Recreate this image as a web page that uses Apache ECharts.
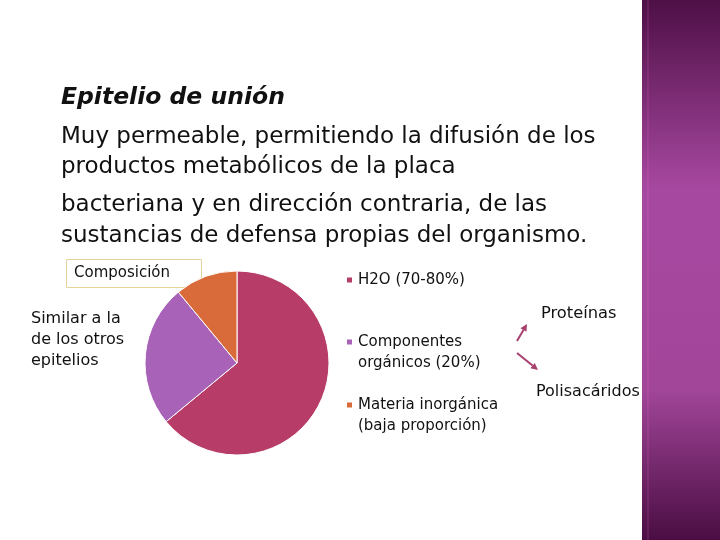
<!DOCTYPE html>
<html><head><meta charset="utf-8">
<script src="https://cdn.jsdelivr.net/npm/echarts@6/dist/echarts.min.js"></script>
<style>html,body{margin:0;padding:0;background:#fff}#c{width:720px;height:540px}</style>
</head><body><div id="c"></div>
<script>
const categories = ['H2O (70-80%)', 'Componentes orgánicos (20%)', 'Materia inorgánica (baja proporción)'];
const legendLabels = [['H2O (70-80%)'], ['Componentes', 'orgánicos (20%)'], ['Materia inorgánica', '(baja proporción)']];
const values = [64, 25, 11];
const colors = ['#b83c68', '#a862b8', '#d96b3a'];
const titleText = 'Epitelio de unión';
const bodyLines = ['Muy permeable, permitiendo la difusión de los', 'productos metabólicos de la placa', 'bacteriana y en dirección contraria, de las', 'sustancias de defensa propias del organismo.'];
const sideLines = ['Similar a la', 'de los otros', 'epitelios'];

const FONT = 'DejaVu Sans';
const chart = echarts.init(document.getElementById('c'), null, {renderer: 'canvas'});

const legendCenters = [280, 342, 405];
const legends = categories.map((c, i) => {
  const multi = legendLabels[i].length > 1;
  return {
    data: [c], left: 345, top: multi ? legendCenters[i] - 31.5 : legendCenters[i] - 10.5,
    orient: 'vertical', padding: 0,
    icon: 'rect', itemWidth: 7, itemHeight: 7, itemGap: 0, selectedMode: false,
    formatter: () => (multi ? ' \n' : '') + legendLabels[i].join('\n'),
    textStyle: {fontFamily: FONT, fontSize: 15, color: '#111', lineHeight: 21}
  };
});

function txt(x, y, s, size, extra) {
  return {type: 'text', x: x, y: y, style: Object.assign({text: s, fontFamily: FONT, fontSize: size, fill: '#111', verticalAlign: 'middle'}, extra || {})};
}
function arrow(x1, y1, x2, y2) {
  const a = Math.atan2(y2 - y1, x2 - x1), L = 7, W = 3.5;
  const bx = x2 - L * Math.cos(a), by = y2 - L * Math.sin(a);
  return [
    {type: 'line', shape: {x1: x1, y1: y1, x2: bx, y2: by}, style: {stroke: '#a8406e', lineWidth: 2}},
    {type: 'polygon', shape: {points: [[x2, y2], [bx - W * Math.sin(a), by + W * Math.cos(a)], [bx + W * Math.sin(a), by - W * Math.cos(a)]]}, style: {fill: '#a8406e'}}
  ];
}

const graphics = [
  {type: 'rect', shape: {x: 642, y: 0, width: 78, height: 540}, style: {fill: new echarts.graphic.LinearGradient(0, 0, 0, 1, [
    {offset: 0, color: '#4e0f46'}, {offset: 0.35, color: '#a748a0'}, {offset: 0.72, color: '#a2469a'}, {offset: 1, color: '#4a0d42'}])}},
  {type: 'rect', shape: {x: 647, y: 0, width: 2, height: 540}, style: {fill: 'rgba(255,120,200,0.12)'}},
  txt(61, 98, titleText, 23.5, {fontWeight: 'bold', fontStyle: 'italic'}),
  txt(61, 137, bodyLines[0], 23),
  txt(61, 167, bodyLines[1], 23),
  txt(61, 205, bodyLines[2], 23),
  txt(61, 236, bodyLines[3], 23),
  {type: 'rect', shape: {x: 66.5, y: 259.5, width: 135, height: 28}, style: {fill: '#fff', stroke: '#e6d49a', lineWidth: 1}},
  txt(74, 273, 'Composición', 15),
  txt(31, 319, sideLines[0], 16),
  txt(31, 340, sideLines[1], 16),
  txt(31, 361, sideLines[2], 16),
  txt(541, 314, 'Proteínas', 16.3),
  txt(536, 392, 'Polisacáridos', 16)
].concat(arrow(517, 341, 527, 324), arrow(517, 353, 538, 370));

chart.setOption({
  animation: false,
  legend: legends,
  graphic: graphics,
  series: [{
    type: 'pie', center: [237, 363], radius: 92, startAngle: 90, clockwise: true,
    label: {show: false}, labelLine: {show: false}, silent: true,
    itemStyle: {borderColor: '#fff', borderWidth: 1},
    data: categories.map((c, i) => ({name: c, value: values[i], itemStyle: {color: colors[i]}}))
  }]
});
</script></body></html>
